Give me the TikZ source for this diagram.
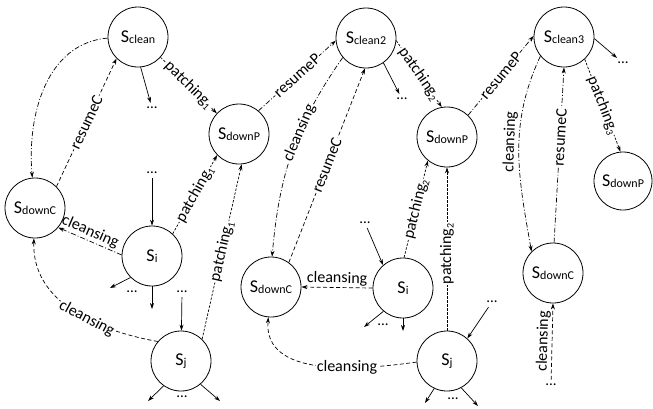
\documentclass[tikz,border=0pt]{standalone}
\usepackage{fontspec}
\setmainfont{Carlito}
\usetikzlibrary{arrows.meta}
\newcommand{\lowsub}[1]{{\fontsize{12}{12}\selectfont\raisebox{-1.2pt}{#1}}}
\newcommand{\numsub}[1]{{\fontsize{10}{10}\selectfont\raisebox{-2.5pt}{#1}}}
\begin{document}
\begin{tikzpicture}[x=1pt,y=-1pt,
 st/.style={circle,draw,line width=0.8pt,minimum size=60pt,inner sep=0pt,font=\fontsize{18}{20}\selectfont},
 dots/.style={inner sep=4pt,font=\fontsize{15}{15}\selectfont},
 arr/.style={-{Stealth[length=6pt,width=4pt]},line width=0.7pt},
 solidarr/.style={arr},
 patch/.style={arr,dash pattern=on 2.5pt off 1.5pt},
 dsh/.style={arr,dash pattern=on 4pt off 2.5pt},
 ddot/.style={arr,dash pattern=on 5pt off 2pt on 1pt off 2pt},
 lab/.style={font=\fontsize{16}{18}\selectfont,sloped,fill=white,inner sep=1pt},
 labA/.style={font=\fontsize{16}{18}\selectfont,sloped,above,inner sep=1.5pt},
]
\useasboundingbox (0,0) rectangle (653,408);

% states
\node[st] (clean1) at (138,37) {S\lowsub{clean}};
\node[st] (downP1) at (239,134) {S\lowsub{downP}};
\node[st] (downC1) at (35,208) {S\lowsub{downC}};
\node[st] (Si1) at (152,256) {S\lowsub{i}};
\node[st] (Sj1) at (181,361) {S\lowsub{j}};
\node[st] (clean2) at (366,38) {S\lowsub{clean2}};
\node[st] (downP2) at (447,137) {S\lowsub{downP}};
\node[st] (downC2) at (271,287) {S\lowsub{downC}};
\node[st] (Si2) at (403,288) {S\lowsub{i}};
\node[st] (Sj2) at (447,361) {S\lowsub{j}};
\node[st] (clean3) at (564,37) {S\lowsub{clean3}};
\node[st] (downC3) at (553,273) {S\lowsub{downC}};
\node[st,minimum size=58pt] (downP3) at (623,181) {S\lowsub{downP}};

% dots
\node[dots] (d1) at (152,108) {...};
\node[dots] (d2) at (152,173) {...};
\node[dots] (d3) at (132,292) {...};
\node[dots] (d4) at (182,292) {...};
\node[dots] (d5) at (182,397) {...};
\node[dots] (d6) at (402,99) {...};
\node[dots] (d7) at (623,63) {...};
\node[dots] (d8) at (365,223) {...};
\node[dots] (d9) at (383,325) {...};
\node[dots] (d10) at (492,302) {...};
\node[dots] (d11) at (453,399) {...};
\node[dots] (d12) at (551,385) {...};

\coordinate (e1) at (110,288);
\coordinate (e2) at (152,309);
\coordinate (e3) at (148,401);
\coordinate (e4) at (220,401);
\coordinate (e5) at (364,327);
\coordinate (e6) at (403,331);
\coordinate (e7) at (425,403);
\coordinate (e8) at (478,406);

% solid arrows
\draw[solidarr] (clean1.-85) -- (d1);
\draw[solidarr] (d2) -- (Si1);
\draw[solidarr] (Si1.-135) -- (e1);
\draw[solidarr] (Si1.-90) -- (e2);
\draw[solidarr] (d4) -- (Sj1);
\draw[solidarr] (Sj1.-125) -- (e3);
\draw[solidarr] (Sj1.-50) -- (e4);
\draw[solidarr] (clean2.-55) -- (d6);
\draw[solidarr] (clean3.-3) -- (d7);
\draw[solidarr] (d8) -- (Si2.131);
\draw[solidarr] (Si2.-130) -- (e5);
\draw[solidarr] (Si2.-90) -- (e6);
\draw[solidarr] (d10) -- (Sj2.48);
\draw[solidarr] (Sj2.-115) -- (e7);
\draw[solidarr] (Sj2.-62) -- (e8);

% first block
\draw[patch] (clean1.-42) -- node[lab]{patching\numsub{1}} (downP1.137);
\draw[patch] (Si1.47) -- node[lab]{patching\numsub{1}} (downP1.-136);
\draw[patch] (Sj1.46) -- node[lab]{patching\numsub{1}} (downP1.-85);
\draw[ddot] (downP1.50) -- node[lab]{resumeP} (clean2.185);
\draw[ddot] (clean1.182) to[out=185,in=95] (downC1.95);
\draw[dsh] (downC1.45) -- node[lab]{resumeC} (clean1.225);
\draw[ddot] (Si1.178) -- node[labA,pos=0.55]{cleansing} (downC1.-40);
\draw[dsh] (Sj1.140) to[out=170,in=-92] node[lab,pos=0.4]{cleansing} (downC1.-92);

% second block
\draw[ddot] (clean2.-140) to[out=-125,in=85] node[lab,pos=0.4]{cleansing} (downC2.88);
\draw[dsh] (downC2.54) -- node[lab]{resumeC} (clean2.-92);
\draw[dsh] (Si2.180) -- node[labA]{cleansing} (downC2.0);
\draw[dsh] (Sj2.182) to[out=188,in=-95] node[lab,pos=0.35]{cleansing} (downC2.-95);
\draw[patch] (clean2.-5) -- node[lab]{patching\numsub{2}} (downP2.100);
\draw[patch] (Si2.88) -- node[lab]{patching\numsub{2}} (downP2.-129);
\draw[patch] (Sj2.90) -- node[lab,pos=0.47]{patching\numsub{2}} (downP2.-90);
\draw[ddot] (downP2.46) -- node[lab]{resumeP} (clean3.178);

% third block
\draw[ddot] (clean3.-141) to[out=-115,in=100] node[labA,pos=0.45]{cleansing} (downC3.135);
\draw[ddot] (downC3.88) -- node[lab,pos=0.6]{resumeC} (clean3.-90);
\draw[patch] (clean3.-47) -- node[lab]{patching\numsub{3}} (downP3.95);
\draw[dsh] (d12) -- node[labA]{cleansing} (downC3.-90);
\end{tikzpicture}
\end{document}
